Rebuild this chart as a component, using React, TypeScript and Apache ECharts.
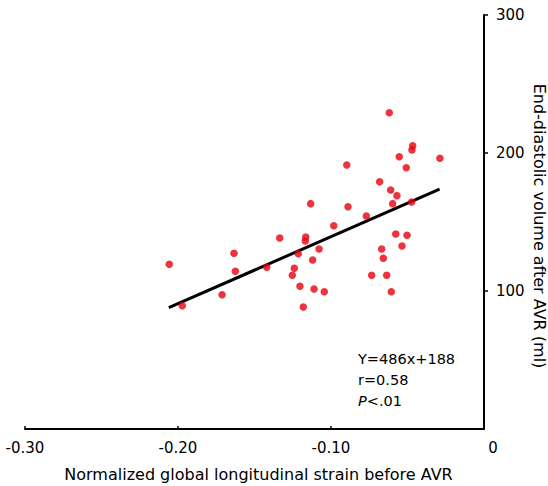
import React, { useEffect, useRef } from "react";
import * as echarts from "echarts";

// Normalized GLS before AVR (x) vs end-diastolic volume after AVR (ml) (y)
const strainValues: number[] = [
  -0.2057, -0.1972, -0.1712, -0.1634, -0.1625, -0.142, -0.1335, -0.124, -0.1253, -0.1203,
  -0.1181, -0.1165, -0.1168, -0.1214, -0.112, -0.1111, -0.1044, -0.1078, -0.1133, -0.0982,
  -0.0897, -0.0889, -0.0619, -0.0466, -0.0471, -0.0554, -0.0288, -0.0508, -0.0682, -0.061,
  -0.0569, -0.0597, -0.0473, -0.0769, -0.0577, -0.0503, -0.0536, -0.0669, -0.0658, -0.0734,
  -0.0636, -0.0606,
];
const edvValues: number[] = [
  119.3, 89.3, 97.3, 127.3, 114.3, 117.2, 138.4, 116.4, 111.4, 103.4,
  88.4, 139.1, 136.2, 127.0, 122.5, 101.4, 99.5, 130.4, 163.3, 147.3,
  191.3, 161.1, 229.2, 205.3, 202.2, 197.3, 196.2, 189.3, 179.2, 173.2,
  169.1, 163.3, 164.5, 154.3, 141.3, 140.4, 132.6, 130.4, 123.7, 111.4,
  111.4, 99.5,
];

// Regression: Y = 486x + 188
const slope = 486;
const intercept = 188;
const fitRange: number[] = [-0.206, -0.029];

const xTicks = { min: -0.3, max: 0, interval: 0.1 };
const yTicks = { min: 0, max: 300, interval: 100 };

const xTitle = "Normalized global longitudinal strain before AVR";
const yTitle = "End-diastolic volume after AVR (ml)";
const statLines: string[] = ["Y=486x+188", "r=0.58", "{i|P}<.01"];

const FONT = "DejaVu Sans";

export default function App() {
  const ref = useRef<HTMLDivElement>(null);
  useEffect(() => {
    document.body.style.margin = "0";
    if (!ref.current) return;
    const chart = echarts.init(ref.current, undefined, { renderer: "svg" });
    const points = strainValues.map((x, i) => [x, edvValues[i]]);
    const fit = fitRange.map((x) => [x, slope * x + intercept]);
    chart.setOption({
      animation: false,
      backgroundColor: "#ffffff",
      grid: {
        left: 25,
        right: 64,
        top: 15,
        bottom: 57,
        containLabel: false,
        outerBoundsMode: "none",
      },
      xAxis: {
        type: "value",
        min: xTicks.min,
        max: xTicks.max,
        interval: xTicks.interval,
        name: xTitle,
        nameLocation: "middle",
        nameGap: 37,
        nameTextStyle: { fontFamily: FONT, fontSize: 16, color: "#000", padding: [0, 0, 0, 8] },
        axisLine: { onZero: false, lineStyle: { color: "#000", width: 2 } },
        axisTick: { show: true, inside: true, length: 3, lineStyle: { color: "#000", width: 1.5 } },
        splitLine: { show: false },
        axisLabel: {
          fontFamily: FONT,
          fontSize: 15,
          color: "#000",
          margin: 11,
          formatter: (v: number) => (Math.abs(v) < 1e-9 ? "{z|0}" : v.toFixed(2)),
          rich: { z: { fontFamily: FONT, fontSize: 15, color: "#000", padding: [0, 0, 0, 18] } },
        },
      },
      yAxis: {
        type: "value",
        position: "right",
        min: yTicks.min,
        max: yTicks.max,
        interval: yTicks.interval,
        axisLine: { onZero: false, lineStyle: { color: "#000", width: 2 } },
        axisTick: { show: true, inside: false, length: 4, lineStyle: { color: "#000", width: 1.5 } },
        splitLine: { show: false },
        axisLabel: {
          fontFamily: FONT,
          fontSize: 15,
          color: "#000",
          margin: 12,
          showMinLabel: false,
          formatter: (v: number) => (v === 0 ? "" : String(v)),
        },
      },
      graphic: [
        {
          type: "text",
          x: 539,
          y: 226,
          rotation: -Math.PI / 2,
          style: {
            text: yTitle,
            fontFamily: FONT,
            fontSize: 16,
            fill: "#000",
            align: "center",
            verticalAlign: "middle",
          },
        },
        {
          type: "text",
          left: 358,
          top: 348,
          style: {
            text: statLines.join("\n"),
            fontFamily: FONT,
            fontSize: 14.5,
            lineHeight: 21,
            fill: "#000",
            rich: { i: { fontStyle: "italic", fontFamily: FONT, fontSize: 14.5, fill: "#000" } },
          },
        },
      ],
      series: [
        {
          type: "line",
          data: fit,
          symbol: "none",
          lineStyle: { color: "#000", width: 3 },
          z: 2,
        },
        {
          type: "scatter",
          data: points,
          symbolSize: 7.5,
          itemStyle: { color: "#e8000c" },
          z: 3,
        },
      ],
    });
    return () => chart.dispose();
  }, []);
  return <div ref={ref} style={{ width: 548, height: 486 }} />;
}
